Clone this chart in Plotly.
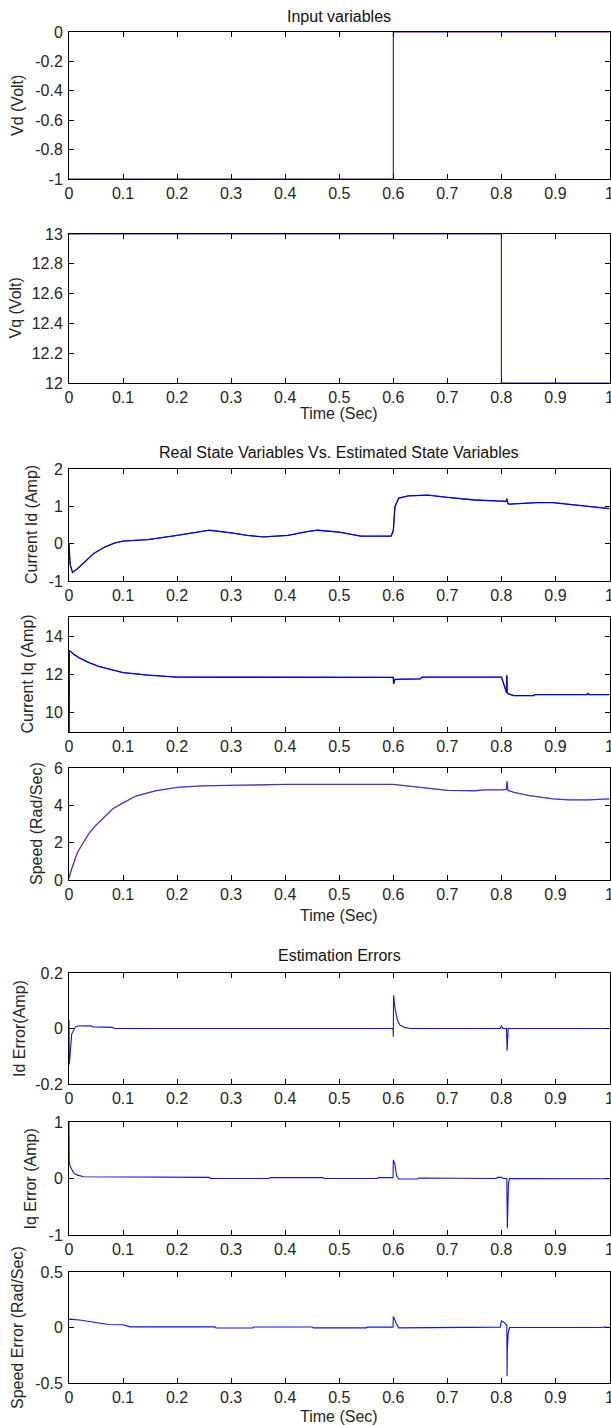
import plotly.graph_objects as go

W, H = 611, 1425

# ---------------- data ----------------
t_vd = [0, 0.6, 0.6, 1.0]
vd = [-1, -1, 0, 0]

t_vq = [0, 0.8, 0.8, 1.0]
vq = [13, 13, 12, 12]

t_id = [0, 0.0008, 0.002, 0.0065, 0.015, 0.03, 0.045, 0.066, 0.085, 0.1, 0.146, 0.2, 0.23, 0.26,
        0.3, 0.33, 0.36, 0.405, 0.44, 0.46, 0.5, 0.54, 0.596, 0.600, 0.603, 0.61, 0.628, 0.664,
        0.70, 0.75, 0.80, 0.808, 0.81, 0.812, 0.815, 0.866, 0.895, 0.952, 1.0]
id_real = [0, -0.35, -0.55, -0.77, -0.68, -0.48, -0.27, -0.09, 0.02, 0.07, 0.11, 0.22, 0.3, 0.36,
           0.29, 0.22, 0.18, 0.22, 0.32, 0.36, 0.31, 0.2, 0.2, 0.35, 0.99, 1.22, 1.28, 1.3,
           1.24, 1.17, 1.14, 1.13, 1.2, 1.07, 1.06, 1.1, 1.1, 1.01, 0.94]

t_iq = [0, 0.0005, 0.003, 0.009, 0.02, 0.037, 0.055, 0.073, 0.1, 0.146, 0.2, 0.6, 0.6005, 0.603,
        0.65, 0.653, 0.8, 0.805, 0.808, 0.8095, 0.81, 0.8105, 0.812, 0.815, 0.823, 0.86, 0.862,
        0.958, 0.96, 0.962, 1.0]
iq_real = [0, 13.25, 13.2, 13.05, 12.85, 12.62, 12.42, 12.28, 12.1, 11.97, 11.86, 11.85, 11.5, 11.75,
           11.77, 11.86, 11.86, 11.45, 11.15, 11.05, 11.95, 11.1, 11.0, 10.97, 10.9, 10.9, 10.95,
           10.95, 11.02, 10.95, 10.95]

t_w = [0, 0.005, 0.016, 0.027, 0.037, 0.048, 0.059, 0.07, 0.081, 0.1, 0.124, 0.16, 0.2, 0.246,
       0.304, 0.4, 0.6, 0.628, 0.664, 0.7, 0.75, 0.77, 0.8, 0.809, 0.8105, 0.812, 0.823, 0.852,
       0.895, 0.924, 0.96, 1.0]
w_real = [0.1, 0.6, 1.5, 2.05, 2.5, 2.88, 3.2, 3.55, 3.82, 4.13, 4.5, 4.78, 4.96, 5.04,
          5.06, 5.12, 5.12, 5.03, 4.88, 4.8, 4.78, 4.83, 4.83, 4.85, 5.28, 4.8, 4.7, 4.52,
          4.35, 4.29, 4.29, 4.35]

t_eid = [0, 0.0005, 0.001, 0.005, 0.012, 0.016, 0.04, 0.045, 0.08, 0.085, 0.5995, 0.6, 0.6005,
         0.603, 0.607, 0.612, 0.621, 0.63, 0.798, 0.8, 0.803, 0.8095, 0.8105, 0.8125, 1.0]
eid = [0.03, -0.13, -0.12, -0.02, 0.006, 0.009, 0.01, 0.006, 0.004, 0.0, 0.0, -0.03, 0.12,
       0.076, 0.034, 0.013, 0.004, 0.0, 0.0, 0.01, 0.0, 0.0, -0.08, 0.0, 0.0]

t_eiq = [0, 0.0005, 0.002, 0.005, 0.009, 0.016, 0.027, 0.26, 0.262, 0.37, 0.372, 0.47, 0.472,
         0.57, 0.572, 0.5995, 0.6, 0.603, 0.606, 0.61, 0.645, 0.647, 0.70, 0.702, 0.79, 0.793,
         0.8, 0.803, 0.81, 0.811, 0.8115, 0.813, 0.815, 0.93, 0.932, 1.0]
eiq = [1.0, 0.3, 0.22, 0.15, 0.09, 0.06, 0.03, 0.02, 0.0, 0.0, 0.015, 0.015, 0.0,
       0.0, 0.015, 0.015, 0.33, 0.25, 0.05, -0.01, -0.01, 0.01, 0.01, 0.0, 0.0, 0.02,
       0.02, 0.0, 0.0, -0.88, -0.5, -0.1, 0.0, 0.0, -0.005, -0.005]

t_ew = [0, 0.002, 0.023, 0.052, 0.073, 0.1, 0.113, 0.27, 0.272, 0.34, 0.342, 0.45, 0.452, 0.55,
        0.552, 0.5995, 0.6, 0.602, 0.605, 0.61, 0.73, 0.732, 0.798, 0.8, 0.805, 0.81, 0.8105,
        0.811, 0.8125, 0.815, 0.985, 0.99, 1.0]
ew = [0.07, 0.075, 0.065, 0.042, 0.027, 0.025, 0.006, 0.006, -0.004, -0.004, 0.004, 0.004, -0.003,
      -0.003, 0.003, 0.003, 0.1, 0.08, 0.04, -0.003, -0.003, 0.003, 0.003, 0.06, 0.045, 0.02,
      -0.44, -0.2, -0.05, 0.0, 0.0, 0.005, 0.0]

x_ticks = [0, 0.1, 0.2, 0.3, 0.4, 0.5, 0.6, 0.7, 0.8, 0.9, 1.0]
x_ticktext = ["0", "0.1", "0.2", "0.3", "0.4", "0.5", "0.6", "0.7", "0.8", "0.9", "1"]

y_ticks = [
    [-1, -0.8, -0.6, -0.4, -0.2, 0],
    [12, 12.2, 12.4, 12.6, 12.8, 13],
    [-1, 0, 1, 2],
    [10, 12, 14],
    [0, 2, 4, 6],
    [-0.2, 0, 0.2],
    [-1, 0, 1],
    [-0.5, 0, 0.5],
]
y_ticktext = [
    ["-1", "-0.8", "-0.6", "-0.4", "-0.2", "0"],
    ["12", "12.2", "12.4", "12.6", "12.8", "13"],
    ["-1", "0", "1", "2"],
    ["10", "12", "14"],
    ["0", "2", "4", "6"],
    ["-0.2", "0", "0.2"],
    ["-1", "0", "1"],
    ["-0.5", "0", "0.5"],
]
y_ranges = [[-1, 0], [12, 13], [-1, 2], [9, 15], [0, 6], [-0.2, 0.2], [-1, 1], [-0.5, 0.5]]
y_titles = ["Vd (Volt)", "Vq (Volt)", "Current Id (Amp)", "Current Iq (Amp)", "Speed (Rad/Sec)",
            "Id Error(Amp)", "Iq Error (Amp)", "Speed Error (Rad/Sec)"]
group_titles = ["Input variables", "Real State Variables Vs. Estimated State Variables", "Estimation Errors"]

# ---------------- layout geometry (pixels) ----------------
box_px = [(32, 179), (234, 383), (469, 581), (617, 732), (768, 880), (973, 1084), (1122, 1235), (1272, 1383)]
x_left, x_right = 69, 609.5
ylab_x = [17.5, 15, 31, 27, 37, 19.5, 30, 17.5]
title_y = [17, 452, 955]
time_y = [413, 916, 1416]

FONT = "Liberation Sans, Arial, Helvetica, sans-serif"
FS = 16
TXT = "#262626"

fig = go.Figure()

series = [
    [(t_vd, vd, "#1010ff", 1.1, 1.0)],
    [(t_vq, vq, "#1010ff", 1.1, 1.0)],
    [(t_id, id_real, "#0000b0", 1.3, 1.0), (t_id, id_real, "#0000ff", 1.0, 0.7)],
    [(t_iq, iq_real, "#0000b0", 1.3, 1.0), (t_iq, iq_real, "#0000ff", 1.0, 0.7)],
    [(t_w, w_real, "#8844cc", 1.3, 1.0), (t_w, w_real, "#0000ff", 1.0, 0.45)],
    [(t_eid, eid, "#1010ff", 1.1, 1.0)],
    [(t_eiq, eiq, "#1010ff", 1.1, 1.0)],
    [(t_ew, ew, "#1010ff", 1.1, 1.0)],
]

for i in range(8):
    ax = "" if i == 0 else str(i + 1)
    for (tx, vy, col, lw, op) in series[i]:
        fig.add_trace(go.Scatter(x=tx, y=vy, mode="lines", xaxis="x" + ax, yaxis="y" + ax,
                                 line=dict(color=col, width=lw), opacity=op, showlegend=False,
                                 hoverinfo="skip"))
    top, bot = box_px[i]
    common = dict(showline=True, linecolor="#000000", linewidth=1, mirror="ticks",
                  ticks="inside", ticklen=5, tickwidth=1, tickcolor="#000000",
                  showgrid=False, zeroline=False, ticklabeloverflow="allow",
                  tickfont=dict(family=FONT, size=FS, color=TXT))
    fig.layout["xaxis" + ax] = dict(domain=[x_left / W, x_right / W], range=[0, 1],
                                   anchor="y" + ax, tickmode="array", tickvals=x_ticks,
                                   ticktext=x_ticktext, ticklabelstandoff=0, **common)
    fig.layout["yaxis" + ax] = dict(domain=[1 - bot / H, 1 - top / H], range=y_ranges[i],
                                   anchor="x" + ax, tickmode="array", tickvals=y_ticks[i],
                                   ticktext=y_ticktext[i], ticklabelstandoff=2, **common)
    fig.add_annotation(x=ylab_x[i] / W, y=1 - (top + bot) / 2 / H, xref="paper", yref="paper",
                       text=y_titles[i], textangle=-90, showarrow=False, xanchor="center",
                       yanchor="middle", font=dict(family=FONT, size=FS, color=TXT))

xc = (x_left + x_right) / 2 / W
for k in range(3):
    fig.add_annotation(x=xc, y=1 - title_y[k] / H, xref="paper", yref="paper", text=group_titles[k],
                       showarrow=False, xanchor="center", yanchor="middle",
                       font=dict(family=FONT, size=FS, color="#111111"))
    fig.add_annotation(x=xc, y=1 - time_y[k] / H, xref="paper", yref="paper", text="Time (Sec)",
                       showarrow=False, xanchor="center", yanchor="middle",
                       font=dict(family=FONT, size=FS, color=TXT))

fig.update_layout(width=W, height=H, margin=dict(l=0, r=0, t=0, b=0, autoexpand=False),
                  paper_bgcolor="white", plot_bgcolor="white", showlegend=False)

fig.write_html("out.html", config={"displayModeBar": False, "staticPlot": True},
               post_script="document.body.style.margin='0';document.body.style.padding='0';"
                           "document.body.style.overflow='hidden';")
